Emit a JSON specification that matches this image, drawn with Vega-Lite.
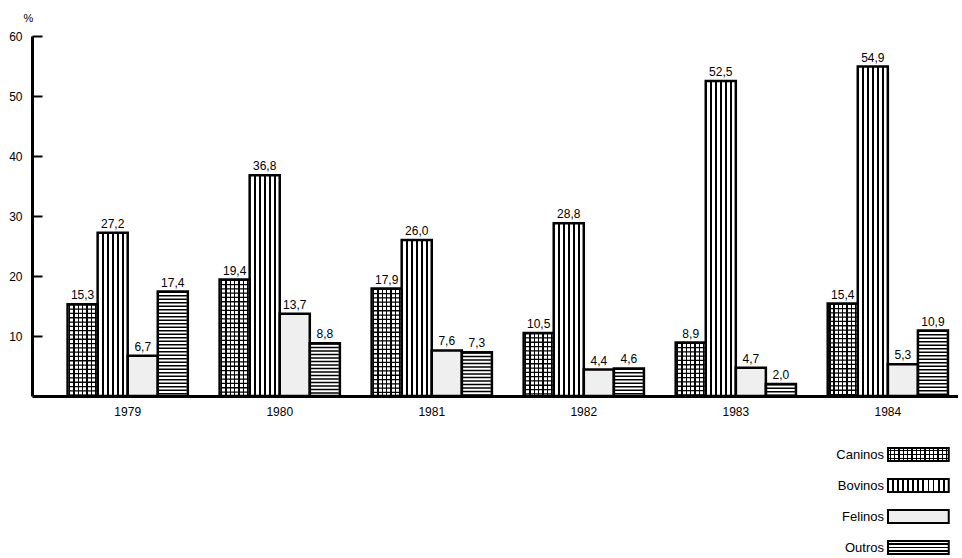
{
  "$schema": "https://vega.github.io/schema/vega-lite/v6.json",
  "background": "white",
  "autosize": {"type": "pad"},
  "padding": {"left": 8, "top": 12, "right": 0, "bottom": 0},
  "bounds": "flush",
  "spacing": 43,
  "config": {
    "locale": {"number": {"decimal": ",", "thousands": ".", "grouping": [3], "currency": ["R$", ""]}},
    "view": {"stroke": null},
    "font": "Liberation Sans, Arial, sans-serif",
    "axis": {"labelColor": "black", "titleColor": "black", "domainColor": "black", "tickColor": "black"},
    "text": {"color": "black"}
  },
  "datasets": {
    "casos": [
      {"ano": "1979", "especie": "Caninos", "valor": 15.3},
      {"ano": "1979", "especie": "Bovinos", "valor": 27.2},
      {"ano": "1979", "especie": "Felinos", "valor": 6.7},
      {"ano": "1979", "especie": "Outros", "valor": 17.4},
      {"ano": "1980", "especie": "Caninos", "valor": 19.4},
      {"ano": "1980", "especie": "Bovinos", "valor": 36.8},
      {"ano": "1980", "especie": "Felinos", "valor": 13.7},
      {"ano": "1980", "especie": "Outros", "valor": 8.8},
      {"ano": "1981", "especie": "Caninos", "valor": 17.9},
      {"ano": "1981", "especie": "Bovinos", "valor": 26.0},
      {"ano": "1981", "especie": "Felinos", "valor": 7.6},
      {"ano": "1981", "especie": "Outros", "valor": 7.3},
      {"ano": "1982", "especie": "Caninos", "valor": 10.5},
      {"ano": "1982", "especie": "Bovinos", "valor": 28.8},
      {"ano": "1982", "especie": "Felinos", "valor": 4.4},
      {"ano": "1982", "especie": "Outros", "valor": 4.6},
      {"ano": "1983", "especie": "Caninos", "valor": 8.9},
      {"ano": "1983", "especie": "Bovinos", "valor": 52.5},
      {"ano": "1983", "especie": "Felinos", "valor": 4.7},
      {"ano": "1983", "especie": "Outros", "valor": 2.0},
      {"ano": "1984", "especie": "Caninos", "valor": 15.4},
      {"ano": "1984", "especie": "Bovinos", "valor": 54.9},
      {"ano": "1984", "especie": "Felinos", "valor": 5.3},
      {"ano": "1984", "especie": "Outros", "valor": 10.9}
    ],
    "especies": [
      {"especie": "Caninos"},
      {"especie": "Bovinos"},
      {"especie": "Felinos"},
      {"especie": "Outros"}
    ]
  },
  "vconcat": [
    {
      "width": 926,
      "height": 360,
      "data": {"name": "casos"},
      "encoding": {
        "x": {
          "field": "ano", "type": "nominal",
          "scale": {"paddingInner": 0.209, "paddingOuter": 0.15, "align": 0.78},
          "axis": {"title": null, "ticks": false, "domainWidth": 3, "labelPadding": 10, "labelFontSize": 12, "labelAngle": 0}
        },
        "xOffset": {
          "field": "especie", "type": "nominal",
          "sort": ["Caninos", "Bovinos", "Felinos", "Outros"],
          "scale": {"paddingInner": 0, "paddingOuter": 0}
        },
        "y": {
          "field": "valor", "type": "quantitative",
          "scale": {"domain": [0, 60], "nice": false},
          "axis": {
            "title": "%", "titleAngle": 0, "titleX": -4, "titleY": -18, "titleAlign": "center", "titleBaseline": "middle",
            "titleFontSize": 11, "titleFontWeight": "normal",
            "values": [10, 20, 30, 40, 50, 60], "grid": false, "domainWidth": 3,
            "tickSize": -10, "tickWidth": 2, "labelPadding": 20, "labelFontSize": 12
          }
        }
      },
      "layer": [
        {
          "mark": {"type": "bar", "strokeWidth": 0},
          "encoding": {
            "fill": {
              "condition": [
                {
                  "test": "datum.especie === 'Caninos'",
                  "value": {
                    "gradient": "linear", "x1": 0, "y1": 0, "x2": 1, "y2": 0,
                    "stops": [
                      {"offset": 0, "color": "white"}, {"offset": 0.049, "color": "white"},
                      {"offset": 0.049, "color": "black"}, {"offset": 0.093, "color": "black"},
                      {"offset": 0.093, "color": "white"}, {"offset": 0.192, "color": "white"},
                      {"offset": 0.192, "color": "black"}, {"offset": 0.236, "color": "black"},
                      {"offset": 0.236, "color": "white"}, {"offset": 0.335, "color": "white"},
                      {"offset": 0.335, "color": "black"}, {"offset": 0.379, "color": "black"},
                      {"offset": 0.379, "color": "white"}, {"offset": 0.478, "color": "white"},
                      {"offset": 0.478, "color": "black"}, {"offset": 0.522, "color": "black"},
                      {"offset": 0.522, "color": "white"}, {"offset": 0.621, "color": "white"},
                      {"offset": 0.621, "color": "black"}, {"offset": 0.665, "color": "black"},
                      {"offset": 0.665, "color": "white"}, {"offset": 0.764, "color": "white"},
                      {"offset": 0.764, "color": "black"}, {"offset": 0.808, "color": "black"},
                      {"offset": 0.808, "color": "white"}, {"offset": 0.907, "color": "white"},
                      {"offset": 0.907, "color": "black"}, {"offset": 0.951, "color": "black"},
                      {"offset": 0.951, "color": "white"}, {"offset": 1, "color": "white"}
                    ]
                  }
                },
                {
                  "test": "datum.especie === 'Bovinos'",
                  "value": {
                    "gradient": "linear", "x1": 0, "y1": 0, "x2": 1, "y2": 0,
                    "stops": [
                      {"offset": 0, "color": "white"}, {"offset": 0.137, "color": "white"},
                      {"offset": 0.137, "color": "black"}, {"offset": 0.197, "color": "black"},
                      {"offset": 0.197, "color": "white"}, {"offset": 0.303, "color": "white"},
                      {"offset": 0.303, "color": "black"}, {"offset": 0.363, "color": "black"},
                      {"offset": 0.363, "color": "white"}, {"offset": 0.47, "color": "white"},
                      {"offset": 0.47, "color": "black"}, {"offset": 0.53, "color": "black"},
                      {"offset": 0.53, "color": "white"}, {"offset": 0.637, "color": "white"},
                      {"offset": 0.637, "color": "black"}, {"offset": 0.697, "color": "black"},
                      {"offset": 0.697, "color": "white"}, {"offset": 0.803, "color": "white"},
                      {"offset": 0.803, "color": "black"}, {"offset": 0.863, "color": "black"},
                      {"offset": 0.863, "color": "white"}, {"offset": 1, "color": "white"}
                    ]
                  }
                },
                {"test": "datum.especie === 'Felinos'", "value": "#efefef"}
              ],
              "value": "white"
            }
          }
        },
        {
          "transform": [{"filter": "datum.especie === 'Outros'"}],
          "mark": {"type": "rule", "strokeWidth": 28, "strokeDash": [1.5, 2], "color": "black", "strokeCap": "butt"},
          "encoding": {"y2": {"datum": 0}}
        },
        {
          "transform": [{"filter": "datum.especie === 'Caninos'"}],
          "mark": {"type": "rule", "strokeWidth": 28, "strokeDash": [1.3, 3], "color": "black", "strokeCap": "butt"},
          "encoding": {"y2": {"datum": 0}}
        },
        {
          "mark": {"type": "bar", "fillOpacity": 0, "stroke": "black", "strokeWidth": 2.5},
          "encoding": {}
        },
        {
          "mark": {"type": "text", "dy": -5, "baseline": "alphabetic", "fontSize": 12},
          "encoding": {"text": {"field": "valor", "type": "quantitative", "format": ".1f"}}
        }
      ]
    },
    {
      "width": 926,
      "height": 124,
      "data": {"name": "especies"},
      "encoding": {
        "y": {
          "field": "especie", "type": "nominal",
          "sort": ["Caninos", "Bovinos", "Felinos", "Outros"],
          "scale": {"paddingInner": 0.58, "paddingOuter": 0.29},
          "axis": null
        },
        "x": {"datum": 0.9244, "type": "quantitative", "scale": {"domain": [0, 1]}, "axis": null}
      },
      "layer": [
        {
          "mark": {"type": "rect", "strokeWidth": 0},
          "encoding": {
            "x2": {"datum": 0.99},
            "fill": {
              "condition": [
                {
                  "test": "datum.especie === 'Caninos'",
                  "value": {
                    "gradient": "linear", "x1": 0, "y1": 0, "x2": 1, "y2": 0,
                    "stops": [
                      {"offset": 0, "color": "white"},
                      {"offset": 0.025, "color": "white"}, {"offset": 0.025, "color": "black"}, {"offset": 0.047, "color": "black"}, {"offset": 0.047, "color": "white"},
                      {"offset": 0.096, "color": "white"}, {"offset": 0.096, "color": "black"}, {"offset": 0.118, "color": "black"}, {"offset": 0.118, "color": "white"},
                      {"offset": 0.168, "color": "white"}, {"offset": 0.168, "color": "black"}, {"offset": 0.19, "color": "black"}, {"offset": 0.19, "color": "white"},
                      {"offset": 0.239, "color": "white"}, {"offset": 0.239, "color": "black"}, {"offset": 0.261, "color": "black"}, {"offset": 0.261, "color": "white"},
                      {"offset": 0.31, "color": "white"}, {"offset": 0.31, "color": "black"}, {"offset": 0.332, "color": "black"}, {"offset": 0.332, "color": "white"},
                      {"offset": 0.382, "color": "white"}, {"offset": 0.382, "color": "black"}, {"offset": 0.404, "color": "black"}, {"offset": 0.404, "color": "white"},
                      {"offset": 0.453, "color": "white"}, {"offset": 0.453, "color": "black"}, {"offset": 0.475, "color": "black"}, {"offset": 0.475, "color": "white"},
                      {"offset": 0.525, "color": "white"}, {"offset": 0.525, "color": "black"}, {"offset": 0.547, "color": "black"}, {"offset": 0.547, "color": "white"},
                      {"offset": 0.596, "color": "white"}, {"offset": 0.596, "color": "black"}, {"offset": 0.618, "color": "black"}, {"offset": 0.618, "color": "white"},
                      {"offset": 0.668, "color": "white"}, {"offset": 0.668, "color": "black"}, {"offset": 0.69, "color": "black"}, {"offset": 0.69, "color": "white"},
                      {"offset": 0.739, "color": "white"}, {"offset": 0.739, "color": "black"}, {"offset": 0.761, "color": "black"}, {"offset": 0.761, "color": "white"},
                      {"offset": 0.81, "color": "white"}, {"offset": 0.81, "color": "black"}, {"offset": 0.832, "color": "black"}, {"offset": 0.832, "color": "white"},
                      {"offset": 0.882, "color": "white"}, {"offset": 0.882, "color": "black"}, {"offset": 0.904, "color": "black"}, {"offset": 0.904, "color": "white"},
                      {"offset": 0.953, "color": "white"}, {"offset": 0.953, "color": "black"}, {"offset": 0.975, "color": "black"}, {"offset": 0.975, "color": "white"},
                      {"offset": 1, "color": "white"}
                    ]
                  }
                },
                {
                  "test": "datum.especie === 'Bovinos'",
                  "value": {
                    "gradient": "linear", "x1": 0, "y1": 0, "x2": 1, "y2": 0,
                    "stops": [
                      {"offset": 0, "color": "white"},
                      {"offset": 0.068, "color": "white"}, {"offset": 0.068, "color": "black"}, {"offset": 0.098, "color": "black"}, {"offset": 0.098, "color": "white"},
                      {"offset": 0.152, "color": "white"}, {"offset": 0.152, "color": "black"}, {"offset": 0.182, "color": "black"}, {"offset": 0.182, "color": "white"},
                      {"offset": 0.235, "color": "white"}, {"offset": 0.235, "color": "black"}, {"offset": 0.265, "color": "black"}, {"offset": 0.265, "color": "white"},
                      {"offset": 0.318, "color": "white"}, {"offset": 0.318, "color": "black"}, {"offset": 0.348, "color": "black"}, {"offset": 0.348, "color": "white"},
                      {"offset": 0.402, "color": "white"}, {"offset": 0.402, "color": "black"}, {"offset": 0.432, "color": "black"}, {"offset": 0.432, "color": "white"},
                      {"offset": 0.485, "color": "white"}, {"offset": 0.485, "color": "black"}, {"offset": 0.515, "color": "black"}, {"offset": 0.515, "color": "white"},
                      {"offset": 0.568, "color": "white"}, {"offset": 0.568, "color": "black"}, {"offset": 0.598, "color": "black"}, {"offset": 0.598, "color": "white"},
                      {"offset": 0.652, "color": "white"}, {"offset": 0.652, "color": "black"}, {"offset": 0.682, "color": "black"}, {"offset": 0.682, "color": "white"},
                      {"offset": 0.735, "color": "white"}, {"offset": 0.735, "color": "black"}, {"offset": 0.765, "color": "black"}, {"offset": 0.765, "color": "white"},
                      {"offset": 0.818, "color": "white"}, {"offset": 0.818, "color": "black"}, {"offset": 0.848, "color": "black"}, {"offset": 0.848, "color": "white"},
                      {"offset": 0.902, "color": "white"}, {"offset": 0.902, "color": "black"}, {"offset": 0.932, "color": "black"}, {"offset": 0.932, "color": "white"},
                      {"offset": 1, "color": "white"}
                    ]
                  }
                },
                {"test": "datum.especie === 'Felinos'", "value": "#efefef"}
              ],
              "value": "white"
            }
          }
        },
        {
          "transform": [{"filter": "datum.especie === 'Caninos' || datum.especie === 'Outros'"}],
          "mark": {"type": "rect", "strokeWidth": 0},
          "encoding": {
            "x2": {"datum": 0.99},
            "fill": {
              "condition": [
                {
                  "test": "datum.especie === 'Caninos'",
                  "value": {
                    "gradient": "linear", "x1": 0, "y1": 0, "x2": 0, "y2": 1,
                    "stops": [
                      {"offset": 0, "color": "rgba(0,0,0,0)"},
                      {"offset": 0.117, "color": "rgba(0,0,0,0)"}, {"offset": 0.117, "color": "black"}, {"offset": 0.217, "color": "black"}, {"offset": 0.217, "color": "rgba(0,0,0,0)"},
                      {"offset": 0.45, "color": "rgba(0,0,0,0)"}, {"offset": 0.45, "color": "black"}, {"offset": 0.55, "color": "black"}, {"offset": 0.55, "color": "rgba(0,0,0,0)"},
                      {"offset": 0.783, "color": "rgba(0,0,0,0)"}, {"offset": 0.783, "color": "black"}, {"offset": 0.883, "color": "black"}, {"offset": 0.883, "color": "rgba(0,0,0,0)"},
                      {"offset": 1, "color": "rgba(0,0,0,0)"}
                    ]
                  }
                }
              ],
              "value": {
                "gradient": "linear", "x1": 0, "y1": 0, "x2": 0, "y2": 1,
                "stops": [
                  {"offset": 0, "color": "rgba(0,0,0,0)"},
                  {"offset": 0.19, "color": "rgba(0,0,0,0)"}, {"offset": 0.19, "color": "black"}, {"offset": 0.31, "color": "black"}, {"offset": 0.31, "color": "rgba(0,0,0,0)"},
                  {"offset": 0.44, "color": "rgba(0,0,0,0)"}, {"offset": 0.44, "color": "black"}, {"offset": 0.56, "color": "black"}, {"offset": 0.56, "color": "rgba(0,0,0,0)"},
                  {"offset": 0.69, "color": "rgba(0,0,0,0)"}, {"offset": 0.69, "color": "black"}, {"offset": 0.81, "color": "black"}, {"offset": 0.81, "color": "rgba(0,0,0,0)"},
                  {"offset": 1, "color": "rgba(0,0,0,0)"}
                ]
              }
            }
          }
        },
        {
          "mark": {"type": "rect", "fillOpacity": 0, "stroke": "black", "strokeWidth": 2},
          "encoding": {"x2": {"datum": 0.99}}
        },
        {
          "mark": {"type": "text", "align": "right", "baseline": "middle", "dx": -4, "fontSize": 13},
          "encoding": {"text": {"field": "especie", "type": "nominal"}}
        }
      ]
    }
  ]
}
